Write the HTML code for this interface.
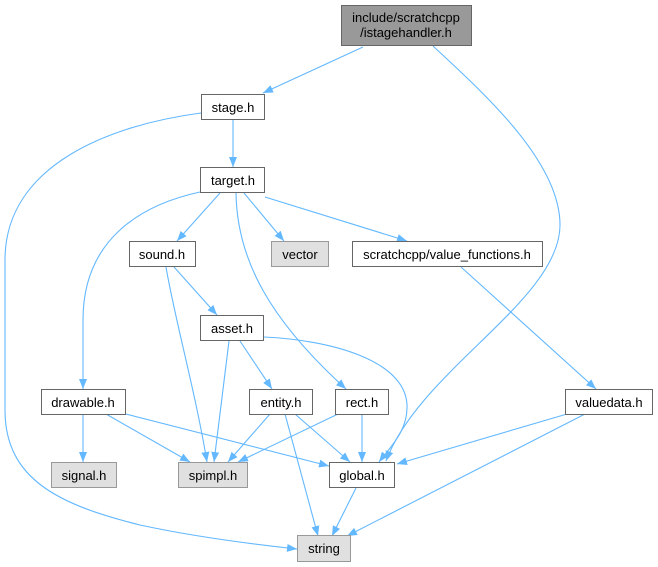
<!DOCTYPE html>
<html><head><meta charset="utf-8"><style>
html,body{margin:0;padding:0;background:#fff;}
svg{display:block;}
text{font-family:"Liberation Sans",Arial,sans-serif;font-size:13px;fill:#000;text-anchor:middle;}
.n{fill:#fff;stroke:#666;stroke-width:1;}
.g{fill:#e0e0e0;stroke:#999;stroke-width:1;}
.t{fill:#999;stroke:#666;stroke-width:1;}
.e{fill:none;stroke:#63b8ff;stroke-width:1.1;}
</style></head><body>
<svg width="658" height="567" viewBox="0 0 658 567" xmlns="http://www.w3.org/2000/svg">
<defs>
<marker id="a" viewBox="0 0 10 8" refX="10" refY="4" markerWidth="10" markerHeight="8" markerUnits="userSpaceOnUse" orient="auto">
<path d="M0,0 L10,4 L0,8 z" fill="#63b8ff"/>
</marker>
</defs>
<g marker-end="url(#a)">
<path class="e" d="M363,47 L263,93"/>
<path class="e" d="M433,46 C480,90 560,160 560,225 C560,300 420,370 386,461"/>
<path class="e" d="M233,120 L233,167"/>
<path class="e" d="M201,113 C110,125 5,165 5,260 L5,410 C5,480 60,505 140,525 C200,538 260,545 297,549"/>
<path class="e" d="M200,192 C140,205 83,240 83,320 L83,389"/>
<path class="e" d="M220,193 L177,241"/>
<path class="e" d="M244,193 L284,241"/>
<path class="e" d="M265,197 L407,241"/>
<path class="e" d="M236,193 C237,260 270,320 346,389"/>
<path class="e" d="M174,267 L217,315"/>
<path class="e" d="M166,267 C175,320 195,390 207,462"/>
<path class="e" d="M229,341 L214,462"/>
<path class="e" d="M240,341 L272,389"/>
<path class="e" d="M264,337 C330,340 405,360 407,405 C408,430 392,445 379,462"/>
<path class="e" d="M83,414 L83,462"/>
<path class="e" d="M106,414 L190,462"/>
<path class="e" d="M126,414 L329,466"/>
<path class="e" d="M270,414 L228,462"/>
<path class="e" d="M295,414 L350,462"/>
<path class="e" d="M285,414 L318,536"/>
<path class="e" d="M338,414 L238,462"/>
<path class="e" d="M362,414 L362,462"/>
<path class="e" d="M567,414 L397,464"/>
<path class="e" d="M585,414 L347,536"/>
<path class="e" d="M356,488 L332,536"/>
<path class="e" d="M461,267 L596,389"/>
</g>

<rect class="t" x="341.5" y="5.5" width="130" height="40"/>
<text x="406" y="22">include/scratchcpp</text>
<text x="406" y="37">/istagehandler.h</text>

<rect class="n" x="201.5" y="94.5" width="63" height="25"/>
<text x="233" y="112">stage.h</text>

<rect class="n" x="200.5" y="167.5" width="64" height="25"/>
<text x="233" y="185">target.h</text>

<rect class="n" x="129.5" y="241.5" width="66" height="25"/>
<text x="162" y="259">sound.h</text>

<rect class="g" x="271.5" y="241.5" width="57" height="25"/>
<text x="300" y="259">vector</text>

<rect class="n" x="352.5" y="241.5" width="190" height="25"/>
<text x="447" y="259">scratchcpp/value_functions.h</text>

<rect class="n" x="200.5" y="315.5" width="63" height="25"/>
<text x="232" y="333">asset.h</text>

<rect class="n" x="41.5" y="389.5" width="84" height="25"/>
<text x="83" y="407">drawable.h</text>

<rect class="n" x="249.5" y="389.5" width="63" height="25"/>
<text x="281" y="407">entity.h</text>

<rect class="n" x="335.5" y="389.5" width="53" height="25"/>
<text x="362" y="407">rect.h</text>

<rect class="n" x="565.5" y="389.5" width="87" height="25"/>
<text x="609" y="407">valuedata.h</text>

<rect class="g" x="51.5" y="462.5" width="65" height="25"/>
<text x="84" y="480">signal.h</text>

<rect class="g" x="178.5" y="462.5" width="69" height="25"/>
<text x="213" y="480">spimpl.h</text>

<rect class="n" x="329.5" y="462.5" width="65" height="25"/>
<text x="362" y="480">global.h</text>

<rect class="g" x="297.5" y="535.5" width="53" height="26"/>
<text x="324" y="553">string</text>
</svg>
</body></html>
